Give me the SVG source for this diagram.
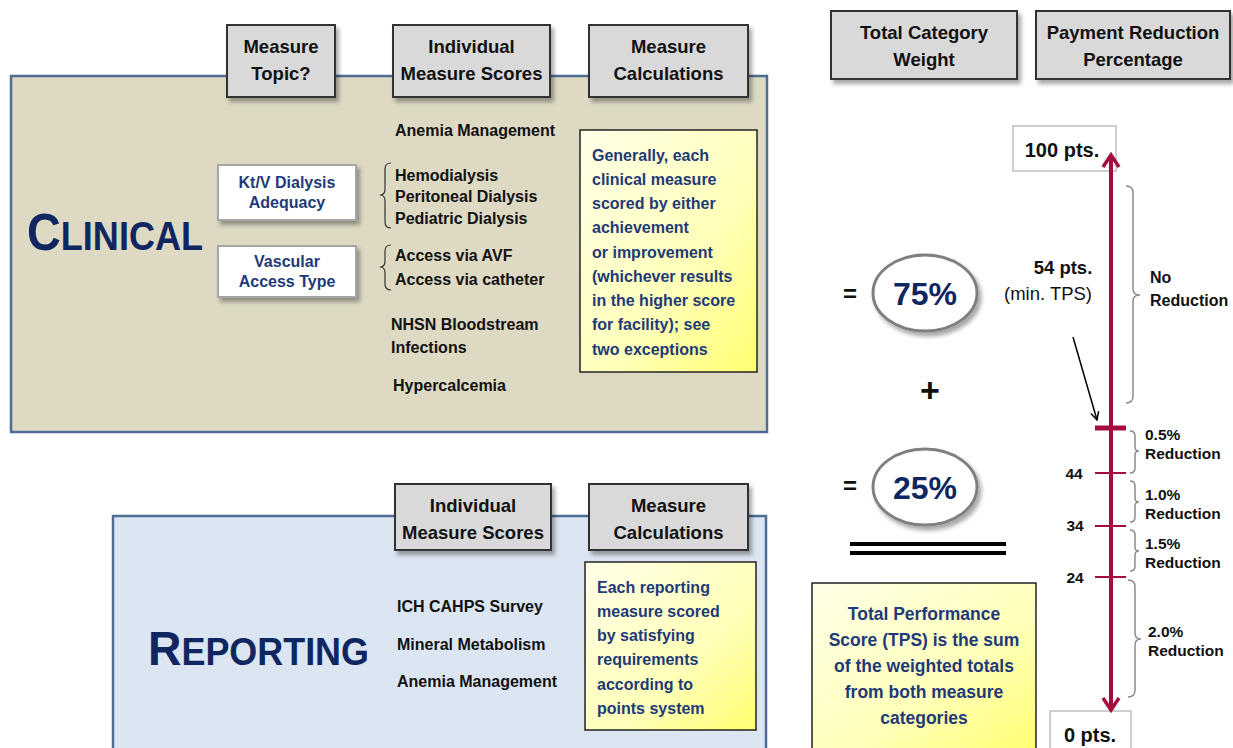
<svg xmlns="http://www.w3.org/2000/svg" width="1233" height="748" viewBox="0 0 1233 748">
<defs>
  <filter id="sh" x="-10%" y="-10%" width="130%" height="140%">
    <feDropShadow dx="3" dy="4" stdDeviation="2" flood-color="#000" flood-opacity="0.35"/>
  </filter>
  <linearGradient id="yel" x1="0" y1="0" x2="1" y2="1">
    <stop offset="0" stop-color="#FFFFE8"/>
    <stop offset="0.6" stop-color="#FFFFB8"/>
    <stop offset="1" stop-color="#FFFF70"/>
  </linearGradient>
  <marker id="ah" markerWidth="10" markerHeight="10" refX="9" refY="5" orient="auto" markerUnits="userSpaceOnUse">
    <path d="M1,1 L9,5 L1,9" fill="none" stroke="#000" stroke-width="1.5"/>
  </marker>
  <style>
    .hdr{fill:#D9D9D9;stroke:#333;stroke-width:2;filter:url(#sh)}
    .ht{font-family:"Liberation Sans",Arial,sans-serif;font-weight:bold;font-size:18.5px;fill:#111;text-anchor:middle}
    .it{font-family:"Liberation Sans",Arial,sans-serif;font-weight:bold;font-size:16px;fill:#111}
    .nv{font-family:"Liberation Sans",Arial,sans-serif;font-weight:bold;fill:#1F3A78}
    .big{font-family:"Liberation Sans",Arial,sans-serif;font-weight:bold;fill:#0F2660}
    .wb{fill:#fff;stroke:#A6A6A6;stroke-width:2;filter:url(#sh)}
    .yb{fill:url(#yel);stroke:#222;stroke-width:1.5}
    .br{fill:none;stroke:#8C8C8C;stroke-width:1.5}
    .brk{fill:none;stroke:#333;stroke-width:1.2}
    .ax{stroke:#A50E3C;fill:none;stroke-linecap:butt}
    .lb{font-family:"Liberation Sans",Arial,sans-serif;font-weight:bold;font-size:15.5px;fill:#111}
  </style>
</defs>

<!-- Clinical panel -->
<g id="clinical">
  <rect x="11" y="76" width="756" height="356" fill="#DDD9C3" stroke="#4F6D94" stroke-width="2.5"/>
  <text class="big" x="27" y="250" textLength="176" lengthAdjust="spacingAndGlyphs"><tspan font-size="52">C</tspan><tspan font-size="40">LINICAL</tspan></text>
</g>
<g id="hdr-topic">
  <rect class="hdr" x="227" y="25" width="108" height="72"/>
  <text class="ht" x="281" y="53">Measure</text>
  <text class="ht" x="281" y="80">Topic?</text>
</g>
<g id="hdr-scores1">
  <rect class="hdr" x="393" y="25" width="157" height="72"/>
  <text class="ht" x="471.5" y="53">Individual</text>
  <text class="ht" x="471.5" y="80">Measure Scores</text>
</g>
<g id="hdr-calc1">
  <rect class="hdr" x="589" y="25" width="159" height="72"/>
  <text class="ht" x="668.5" y="53">Measure</text>
  <text class="ht" x="668.5" y="80">Calculations</text>
</g>
<g id="ktv">
  <rect class="wb" x="218" y="165" width="138" height="55"/>
  <text class="nv" font-size="16" text-anchor="middle" x="287" y="188">Kt/V Dialysis</text>
  <text class="nv" font-size="16" text-anchor="middle" x="287" y="208">Adequacy</text>
</g>
<g id="vascular">
  <rect class="wb" x="218" y="246" width="138" height="51"/>
  <text class="nv" font-size="16" text-anchor="middle" x="287" y="267">Vascular</text>
  <text class="nv" font-size="16" text-anchor="middle" x="287" y="287">Access Type</text>
</g>
<g id="clinical-items">
  <text class="it" x="395" y="136">Anemia Management</text>
  <path class="brk" d="M391,163 Q385,163 385,169 L385,189 Q385,195 380,195 Q385,195 385,201 L385,222 Q385,228 391,228"/>
  <text class="it" x="395" y="181">Hemodialysis</text>
  <text class="it" x="395" y="202">Peritoneal Dialysis</text>
  <text class="it" x="395" y="224">Pediatric Dialysis</text>
  <path class="brk" d="M391,245 Q385,245 385,251 L385,261 Q385,267 380,267 Q385,267 385,273 L385,284 Q385,290 391,290"/>
  <text class="it" x="395" y="261">Access via AVF</text>
  <text class="it" x="395" y="285">Access via catheter</text>
  <text class="it" x="391" y="330">NHSN Bloodstream</text>
  <text class="it" x="391" y="353">Infections</text>
  <text class="it" x="393" y="391">Hypercalcemia</text>
</g>
<g id="clinical-calc">
  <rect class="yb" x="580" y="130" width="177" height="242"/>
  <g class="nv" font-size="16">
    <text x="592" y="161">Generally, each</text>
    <text x="592" y="185">clinical measure</text>
    <text x="592" y="209">scored by either</text>
    <text x="592" y="233">achievement</text>
    <text x="592" y="258">or improvement</text>
    <text x="592" y="282">(whichever results</text>
    <text x="592" y="306">in the higher score</text>
    <text x="592" y="330">for facility); see</text>
    <text x="592" y="355">two exceptions</text>
  </g>
</g>

<!-- Reporting panel -->
<g id="reporting">
  <rect x="113" y="516" width="653" height="240" fill="#DCE6F2" stroke="#4F6D94" stroke-width="2.5"/>
  <text class="big" x="148" y="665" textLength="221" lengthAdjust="spacingAndGlyphs"><tspan font-size="49">R</tspan><tspan font-size="38">EPORTING</tspan></text>
</g>
<g id="hdr-scores2">
  <rect class="hdr" x="395" y="484" width="156" height="66"/>
  <text class="ht" x="473" y="512">Individual</text>
  <text class="ht" x="473" y="539">Measure Scores</text>
</g>
<g id="hdr-calc2">
  <rect class="hdr" x="589" y="484" width="159" height="66"/>
  <text class="ht" x="668.5" y="512">Measure</text>
  <text class="ht" x="668.5" y="539">Calculations</text>
</g>
<g id="reporting-items">
  <text class="it" x="397" y="612">ICH CAHPS Survey</text>
  <text class="it" x="397" y="650">Mineral Metabolism</text>
  <text class="it" x="397" y="687">Anemia Management</text>
</g>
<g id="reporting-calc">
  <rect class="yb" x="585" y="562" width="171" height="168"/>
  <g class="nv" font-size="16">
    <text x="597" y="593">Each reporting</text>
    <text x="597" y="617">measure scored</text>
    <text x="597" y="641">by satisfying</text>
    <text x="597" y="665">requirements</text>
    <text x="597" y="690">according to</text>
    <text x="597" y="714">points system</text>
  </g>
</g>

<!-- Right side -->
<g id="hdr-weight">
  <rect class="hdr" x="831" y="11" width="186" height="68"/>
  <text class="ht" x="924" y="39">Total Category</text>
  <text class="ht" x="924" y="66">Weight</text>
</g>
<g id="hdr-payment">
  <rect class="hdr" x="1036" y="11" width="194" height="68"/>
  <text class="ht" x="1133" y="39">Payment Reduction</text>
  <text class="ht" x="1133" y="66">Percentage</text>
</g>
<g id="w75">
  <text x="850" y="302" font-family="Liberation Sans,Arial,sans-serif" font-weight="bold" font-size="24" fill="#111" text-anchor="middle">=</text>
  <ellipse cx="925" cy="293" rx="52" ry="38" fill="#fff" stroke="#7F7F7F" stroke-width="3" filter="url(#sh)"/>
  <text class="big" font-size="32" x="925" y="305" text-anchor="middle">75%</text>
</g>
<g id="plus">
  <text x="930" y="402" font-family="Liberation Sans,Arial,sans-serif" font-weight="bold" font-size="34" fill="#111" text-anchor="middle">+</text>
</g>
<g id="w25">
  <text x="850" y="494" font-family="Liberation Sans,Arial,sans-serif" font-weight="bold" font-size="24" fill="#111" text-anchor="middle">=</text>
  <ellipse cx="925" cy="487" rx="52" ry="38" fill="#fff" stroke="#7F7F7F" stroke-width="3" filter="url(#sh)"/>
  <text class="big" font-size="32" x="925" y="499" text-anchor="middle">25%</text>
</g>
<g id="sum-line">
  <line x1="850" y1="544" x2="1006" y2="544" stroke="#000" stroke-width="4"/>
  <line x1="850" y1="553" x2="1006" y2="553" stroke="#000" stroke-width="4"/>
</g>
<g id="tps">
  <rect class="yb" x="812" y="583" width="224" height="170"/>
  <g class="nv" font-size="17.5" text-anchor="middle">
    <text x="924" y="620">Total Performance</text>
    <text x="924" y="646">Score (TPS) is the sum</text>
    <text x="924" y="672">of the weighted totals</text>
    <text x="924" y="698">from both measure</text>
    <text x="924" y="724">categories</text>
  </g>
</g>
<g id="pts100">
  <rect x="1013" y="126" width="103" height="45" fill="#fff" stroke="#BFBFBF" stroke-width="1.5"/>
  <text x="1062" y="157" font-family="Liberation Sans,Arial,sans-serif" font-weight="bold" font-size="20" fill="#111" text-anchor="middle">100 pts.</text>
</g>
<g id="pts0">
  <rect x="1050" y="711" width="81" height="45" fill="#fff" stroke="#BFBFBF" stroke-width="1.5"/>
  <text x="1090" y="742" font-family="Liberation Sans,Arial,sans-serif" font-weight="bold" font-size="20" fill="#111" text-anchor="middle">0 pts.</text>
</g>
<g id="min-tps">
  <text x="1063" y="274" font-family="Liberation Sans,Arial,sans-serif" font-weight="bold" font-size="18.5" fill="#111" text-anchor="middle">54 pts.</text>
  <text x="1048" y="300" font-family="Liberation Sans,Arial,sans-serif" font-size="18.5" fill="#111" text-anchor="middle">(min. TPS)</text>
</g>
<g id="scale-labels">
  <text class="lb" x="1074" y="479" text-anchor="middle">44</text>
  <text class="lb" x="1075" y="531" text-anchor="middle">34</text>
  <text class="lb" x="1075" y="583" text-anchor="middle">24</text>
  <text class="it" x="1150" y="283">No</text>
  <text class="it" x="1150" y="306">Reduction</text>
  <text class="lb" x="1145" y="440">0.5%</text>
  <text class="lb" x="1145" y="459">Reduction</text>
  <text class="lb" x="1145" y="500">1.0%</text>
  <text class="lb" x="1145" y="519">Reduction</text>
  <text class="lb" x="1145" y="549">1.5%</text>
  <text class="lb" x="1145" y="568">Reduction</text>
  <text class="lb" x="1148" y="637">2.0%</text>
  <text class="lb" x="1148" y="656">Reduction</text>
</g>
<g id="connectors">
  <line class="ax" x1="1111" y1="155" x2="1111" y2="710" stroke-width="4"/>
  <polyline class="ax" points="1103,167 1111,155 1119,167" stroke-width="3.5"/>
  <polyline class="ax" points="1103,698 1111,710 1119,698" stroke-width="3.5"/>
  <line class="ax" x1="1095" y1="428" x2="1126" y2="428" stroke-width="5"/>
  <line class="ax" x1="1095" y1="473" x2="1126" y2="473" stroke-width="2"/>
  <line class="ax" x1="1095" y1="526" x2="1126" y2="526" stroke-width="2"/>
  <line class="ax" x1="1095" y1="577" x2="1126" y2="577" stroke-width="2"/>
  <line x1="1073" y1="337" x2="1097" y2="420" stroke="#000" stroke-width="1.5" marker-end="url(#ah)"/>
  <path class="br" d="M1126,186 Q1133,186 1133,193 L1133,289 Q1133,295 1140,295 Q1133,295 1133,301 L1133,396 Q1133,403 1126,403"/>
  <path class="br" d="M1130,431 Q1135,431 1135,436 L1135,447 Q1135,451 1139,451 Q1135,451 1135,455 L1135,468 Q1135,473 1130,473"/>
  <path class="br" d="M1130,481 Q1135,481 1135,486 L1135,498 Q1135,502 1139,502 Q1135,502 1135,506 L1135,517 Q1135,522 1130,522"/>
  <path class="br" d="M1130,530 Q1135,530 1135,535 L1135,547 Q1135,551 1139,551 Q1135,551 1135,555 L1135,566 Q1135,571 1130,571"/>
  <path class="br" d="M1128,580 Q1135,580 1135,587 L1135,633 Q1135,639 1141,639 Q1135,639 1135,645 L1135,690 Q1135,697 1128,697"/>
</g>
</svg>
